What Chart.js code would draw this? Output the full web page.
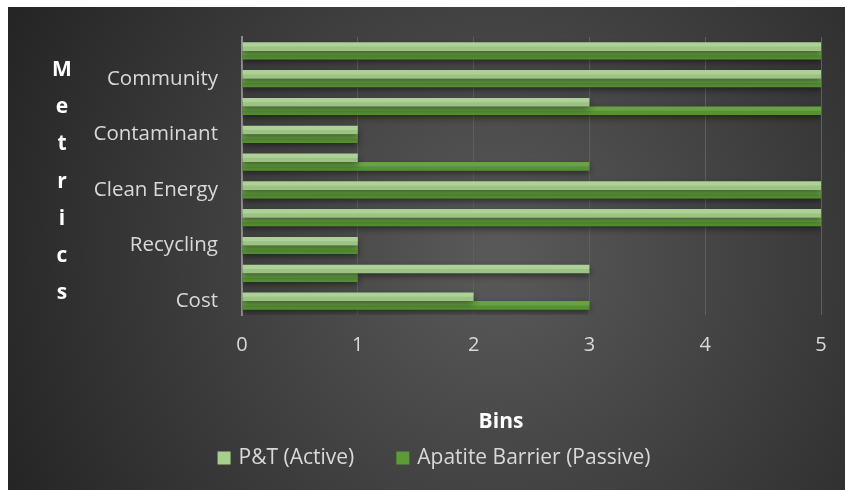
<!DOCTYPE html>
<html>
<head>
<meta charset="utf-8">
<script src="https://cdn.jsdelivr.net/npm/chart.js@4.4.0/dist/chart.umd.min.js"></script>
<style>
  html, body { margin: 0; padding: 0; background: #fff; }
  #wrap { position: absolute; left: 8px; top: 7px; width: 837px; height: 483px; }
</style>
</head>
<body>
<div id="wrap"><canvas id="c"></canvas></div>
<script>
// categories run bottom -> top, like the original sheet; only every other one carries a label
const categories = ['Cost', '', 'Recycling', '', 'Clean Energy', '', 'Contaminant', '', 'Community', ''];
const ptActive = [2, 3, 1, 5, 5, 1, 1, 3, 5, 5];
const apatitePassive = [3, 1, 1, 5, 5, 3, 1, 5, 5, 5];
const binTicks = [0, 1, 2, 3, 4, 5];
const seriesNames = ['P&T (Active)', 'Apatite Barrier (Passive)'];
const xTitle = 'Bins';
const yTitle = 'Metrics';

const FONT = '"Open Sans", "Noto Sans", sans-serif';

// dark radial backdrop
const backdrop = {
  id: 'backdrop',
  beforeDraw(chart) {
    const { ctx, width, height } = chart;
    const g = ctx.createRadialGradient(490, 250, 20, 490, 250, 560);
    g.addColorStop(0, '#585858');
    g.addColorStop(1, '#232323');
    ctx.save();
    ctx.fillStyle = g;
    ctx.fillRect(0, 0, width, height);
    ctx.restore();
  }
};

// soft drop shadow under the bars
const barShadow = {
  id: 'barShadow',
  beforeDatasetsDraw(chart) {
    const ctx = chart.ctx;
    ctx.save();
    ctx.shadowColor = 'rgba(0,0,0,0.45)';
    ctx.shadowBlur = 6;
    ctx.shadowOffsetY = 3;
  },
  afterDatasetsDraw(chart) {
    chart.ctx.restore();
  }
};

// glossy top half / darker bottom half on every bar, like the office preset
const barGloss = {
  id: 'barGloss',
  afterDatasetsDraw(chart) {
    const ctx = chart.ctx;
    ctx.save();
    chart.data.datasets.forEach((ds, i) => {
      chart.getDatasetMeta(i).data.forEach(el => {
        const { x, y, base, height } = el.getProps(['x', 'y', 'base', 'height'], true);
        const top = y - height / 2;
        const left = Math.min(base, x), w = Math.abs(x - base);
        ctx.fillStyle = 'rgba(255,255,255,0.07)';
        ctx.fillRect(left, top, w, height * 0.5);
        ctx.fillStyle = 'rgba(0,0,0,0.06)';
        ctx.fillRect(left, top + height * 0.5, w, height * 0.5);
      });
    });
    ctx.restore();
  }
};

// axis titles: "Bins" under the ticks, "Metrics" stacked letter by letter
const axisTitles = {
  id: 'axisTitles',
  afterDraw(chart) {
    const ctx = chart.ctx;
    ctx.save();
    ctx.fillStyle = '#ffffff';
    ctx.font = 'bold 21px ' + FONT;
    ctx.textAlign = 'center';
    ctx.textBaseline = 'middle';
    ctx.fillText(xTitle, 493, 415);
    yTitle.split('').forEach((ch, i) => {
      ctx.fillText(ch, 54, 63 + i * 37.2);
    });
    ctx.restore();
  }
};

// legend row under the axis title, built from the datasets
const bottomLegend = {
  id: 'bottomLegend',
  afterDraw(chart) {
    const ctx = chart.ctx;
    const box = 13, gap = 8, spacing = 42;
    ctx.save();
    ctx.font = '21px ' + FONT;
    ctx.textBaseline = 'middle';
    const items = chart.data.datasets.map(ds => ({
      text: ds.label, color: ds.backgroundColor, w: box + gap + ctx.measureText(ds.label).width
    }));
    const total = items.reduce((s, it) => s + it.w, 0) + spacing * (items.length - 1);
    let x = 426 - total / 2;
    const y = 451;
    items.forEach(it => {
      ctx.fillStyle = it.color;
      ctx.fillRect(x, y - box / 2, box, box);
      ctx.fillStyle = '#d9d9d9';
      ctx.fillText(it.text, x + box + gap, y);
      x += it.w + spacing;
    });
    ctx.restore();
  }
};

new Chart(document.getElementById('c'), {
  type: 'bar',
  data: {
    labels: categories,
    datasets: [
      {
        label: seriesNames[0],
        data: ptActive,
        backgroundColor: '#a6cf8d',
        borderWidth: 0
      },
      {
        label: seriesNames[1],
        data: apatitePassive,
        backgroundColor: '#5c9b36',
        borderWidth: 0
      }
    ]
  },
  options: {
    indexAxis: 'y',
    responsive: true,
    maintainAspectRatio: false,
    animation: false,
    barPercentage: 1,
    categoryPercentage: 0.62,
    layout: { padding: { left: 0, right: 24, top: 30, bottom: 0 } },
    scales: {
      y: {
        type: 'category',
        reverse: true,
        grid: { display: false, drawTicks: false },
        border: { color: '#8c8c8c', width: 2 },
        ticks: {
          color: '#d9d9d9',
          font: { family: FONT, size: 20.5 },
          padding: 24,
          autoSkip: false
        },
        afterFit(scale) {
          scale.width = 234;
          scale.paddingTop = 0;
          scale.paddingBottom = 0;
        }
      },
      x: {
        min: 0,
        max: 5,
        grid: { color: '#5f5f5f', drawTicks: false },
        border: { display: false },
        afterBuildTicks(scale) { scale.ticks = binTicks.map(v => ({ value: v })); },
        ticks: {
          color: '#d9d9d9',
          font: { family: FONT, size: 20 },
          padding: 18
        },
        afterFit(scale) {
          scale.height = 175;
          scale.paddingLeft = 0;
          scale.paddingRight = 0;
        }
      }
    },
    plugins: {
      legend: { display: false },
      tooltip: { enabled: false }
    }
  },
  plugins: [backdrop, barShadow, barGloss, axisTitles, bottomLegend]
});
</script>
</body>
</html>
